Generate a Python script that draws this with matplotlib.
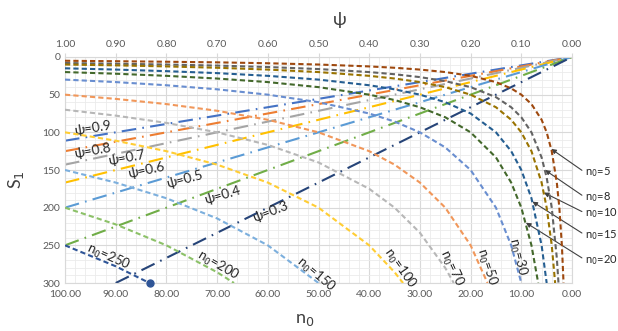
import matplotlib.pyplot as plt
from matplotlib.ticker import MultipleLocator, FormatStrFormatter

plt.rcParams["font.family"] = ["Lato", "DejaVu Sans"]

# psi values (top axis) at which the n0 curves are tabulated
PSI_GRID = [1.00, 0.90, 0.80, 0.70, 0.60, 0.50, 0.40, 0.35, 0.30, 0.25,
            0.20, 0.15, 0.12, 0.10, 0.08, 0.06, 0.05, 0.04, 0.03, 0.025, 0.02]

N0_VALUES = [5, 8, 10, 15, 20, 30, 50, 70, 100, 150, 200, 250]

# S1 read along each n0 curve on PSI_GRID (stops before S1 = 300)
S1_N0_5 = [5, 5.6, 6.3, 7.1, 8.3, 10, 12.5, 14.3, 16.7, 20, 25, 33.3, 41.7,
           50, 62.5, 83.3, 100, 125, 166.7, 200, 250]
S1_N0_8 = [8, 8.9, 10, 11.4, 13.3, 16, 20, 22.9, 26.7, 32, 40, 53.3, 66.7,
           80, 100, 133.3, 160, 200, 266.7]
S1_N0_10 = [10, 11.1, 12.5, 14.3, 16.7, 20, 25, 28.6, 33.3, 40, 50, 66.7,
            83.3, 100, 125, 166.7, 200, 250]
S1_N0_15 = [15, 16.7, 18.8, 21.4, 25, 30, 37.5, 42.9, 50, 60, 75, 100, 125,
            150, 187.5, 250]
S1_N0_20 = [20, 22.2, 25, 28.6, 33.3, 40, 50, 57.1, 66.7, 80, 100, 133.3,
            166.7, 200, 250]
S1_N0_30 = [30, 33.3, 37.5, 42.9, 50, 60, 75, 85.7, 100, 120, 150, 200, 250]
S1_N0_50 = [50, 55.6, 62.5, 71.4, 83.3, 100, 125, 142.9, 166.7, 200, 250]
S1_N0_70 = [70, 77.8, 87.5, 100, 116.7, 140, 175, 200, 233.3, 280]
S1_N0_100 = [100, 111.1, 125, 142.9, 166.7, 200, 250, 285.7]
S1_N0_150 = [150, 166.7, 187.5, 214.3, 250]
S1_N0_200 = [200, 222.2, 250, 285.7]
S1_N0_250 = [250, 277.8]
N0_S1 = [S1_N0_5, S1_N0_8, S1_N0_10, S1_N0_15, S1_N0_20, S1_N0_30,
         S1_N0_50, S1_N0_70, S1_N0_100, S1_N0_150, S1_N0_200, S1_N0_250]
# psi where each curve reaches the bottom (S1 = 300)
N0_END_PSI = [0.0167, 0.0267, 0.0333, 0.05, 0.0667, 0.10, 0.1667, 0.2333,
              0.3333, 0.50, 0.6667, 0.8333]
N0_COLORS = ["#9E480E", "#636363", "#997300", "#255E91", "#43682B", "#698ED0",
             "#F1975A", "#B7B7B7", "#FFCD33", "#7CAFDD", "#8CC168", "#2F5597"]

PSI_VALUES = [0.9, 0.8, 0.7, 0.6, 0.5, 0.4, 0.3]
PSI_START_N0 = [100, 100, 100, 100, 100, 100, 90]
PSI_START_S1 = [111.1, 125, 142.9, 166.7, 200, 250, 300]
PSI_COLORS = ["#4472C4", "#ED7D31", "#A5A5A5", "#FFC000", "#5B9BD5",
              "#70AD47", "#264478"]

fig = plt.figure(figsize=(6.18, 3.31), dpi=100)
ax = fig.add_axes([0.1052, 0.145, 0.8204, 0.6828])
ax.set_xlim(100, 0)
ax.set_ylim(300, 0)
ax.xaxis.set_major_locator(MultipleLocator(10))
ax.xaxis.set_minor_locator(MultipleLocator(2))
ax.yaxis.set_major_locator(MultipleLocator(50))
ax.yaxis.set_minor_locator(MultipleLocator(10))
ax.xaxis.set_major_formatter(FormatStrFormatter("%.2f"))
ax.grid(which="major", color="#D9D9D9", lw=0.8)
ax.grid(which="minor", color="#EBEBEB", lw=0.6)
ax.set_axisbelow(True)
ax.tick_params(which="both", length=0, labelsize=7.5, labelcolor="#595959")
ax.tick_params(axis="x", pad=5)
for s in ax.spines.values():
    s.set_color("#D9D9D9")

ax_top = ax.twiny()
ax_top.set_xlim(1, 0)
ax_top.xaxis.set_major_locator(MultipleLocator(0.1))
ax_top.xaxis.set_major_formatter(FormatStrFormatter("%.2f"))
ax_top.tick_params(length=3, color="#D9D9D9", labelsize=7.5,
                   labelcolor="#595959", pad=3)
for s in ax_top.spines.values():
    s.set_visible(False)

# psi = const lines, dash-dot, on the n0 axis
for n0, s1, c in zip(PSI_START_N0, PSI_START_S1, PSI_COLORS):
    ax.plot([n0, 0], [s1, 0], color=c, lw=1.5, dashes=(7, 3, 0.8, 3))

# n0 = const curves, short dashes, on the psi axis
for s1, end, c in zip(N0_S1, N0_END_PSI, N0_COLORS):
    xs = PSI_GRID[:len(s1)] + [end]
    ys = s1 + [300]
    ax_top.plot(xs, ys, color=c, lw=1.5, dashes=(2.5, 1.5))
ax_top.plot([N0_END_PSI[-1]], [300], "o", color=N0_COLORS[-1], ms=5,
            clip_on=False)

# labels on the psi lines
psi_lab = [(94.5, 95, 9), (94.5, 124, 10), (87.8, 134, 10), (84, 150, 12),
           (76.5, 163, 15), (69, 183, 16), (59.5, 206, 21)]
for (x, y, r), p in zip(psi_lab, PSI_VALUES):
    ax.text(x, y, f"ψ={p}", rotation=r, ha="center", va="center",
            fontsize=9.8, color="#262626", rotation_mode="anchor")

# labels on the n0 curves
n0_lab = [(91.5, 265, -24, 250), (69.8, 277, -30, 200), (50.5, 289, -40, 150),
          (33.9, 280, -55, 100), (23.7, 280, -65, 70), (16.8, 279, -72, 50),
          (10.8, 265, -76, 30)]
for x, y, r, n in n0_lab:
    ax.text(x, y, f"n$_0$={n}", rotation=r, ha="center", va="center",
            fontsize=9.5, color="#262626", rotation_mode="anchor")

# call-outs for the small n0 curves
callouts = [(5, 122, 153), (8, 150, 186), (10, 180, 207), (15, 192, 236),
            (20, 220, 269)]
for n, tip_s1, lab_s1 in callouts:
    tip_x = 100 * n / tip_s1
    ax.annotate(f"n$_0$={n}", xy=(tip_x, tip_s1), xytext=(-2.5, lab_s1),
                ha="left", va="center", fontsize=8, color="#262626",
                annotation_clip=False,
                arrowprops=dict(arrowstyle="-|>", color="#404040", lw=0.8,
                                mutation_scale=7, shrinkA=0, shrinkB=0,
                                relpos=(0, 0.5)))

fig.text(340 / 618, 1 - 20 / 331, "ψ", fontsize=13, color="#404040",
         ha="center", va="center")
fig.text(16 / 618, 1 - 180 / 331, "S$_1$", fontsize=13, color="#404040",
         ha="center", va="center", rotation=90)
fig.text(305 / 618, 1 - 320 / 331, "n$_0$", fontsize=13, color="#404040",
         ha="center", va="center")

fig.savefig("out.png", dpi=100)
